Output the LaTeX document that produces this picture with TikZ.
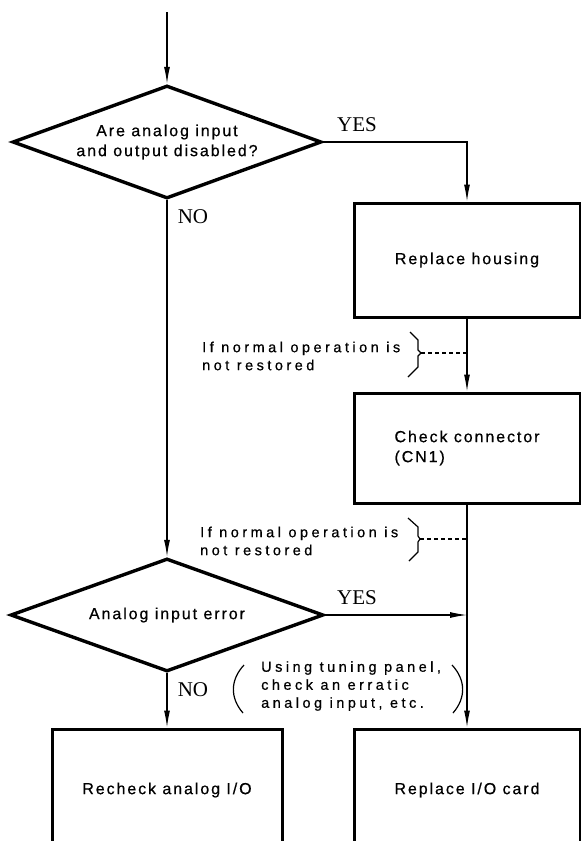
\documentclass[tikz,border=0pt]{standalone}
\usepackage{fontspec}
\setmainfont{Liberation Serif}
\newfontfamily\lblfont[LetterSpace=12,FakeBold=0.6]{Liberation Sans}
\newfontfamily\notefont[LetterSpace=24,FakeBold=0.6]{Liberation Sans}
\usetikzlibrary{shapes.geometric,arrows.meta}

\begin{document}
\begin{tikzpicture}[x=1pt,y=-1pt,
  box/.style={draw,line width=3pt,inner sep=0pt,font=\lblfont\fontsize{16}{20}\selectfont},
  decision/.style={draw,diamond,shape aspect=2.75,line width=3.4pt,inner sep=0pt,font=\lblfont\fontsize{16}{20}\selectfont,align=center},
  conn/.style={line width=1.2pt},
  arr/.style={conn,-{Latex[length=17pt,width=6pt]}},
  yn/.style={font=\fontsize{21}{24}\selectfont,inner sep=0pt},
  note/.style={font=\notefont\fontsize{14.5}{18}\selectfont,align=left,inner sep=0pt,anchor=west},
  bracestroke/.style={line width=1.2pt,line join=miter},
  dashedline/.style={line width=1.2pt,dash pattern=on 4pt off 3pt}]

\fill[white] (0,0) rectangle (581,841);
\useasboundingbox (0,0) rectangle (581,841);
\clip (0,0) rectangle (581,841);

% shapes
\node[decision,minimum width=309pt,minimum height=113pt] (d1) at (167,142) {Are analog input\\and output disabled?};
\node[box,minimum width=226pt,minimum height=114pt] (box1) at (467,260) {Replace housing};
\node[box,minimum width=226pt,minimum height=110pt,align=left] (box2) at (467,448) {Check connector\\(CN1)};
\node[decision,minimum width=313pt,minimum height=113pt] (d2) at (167,615) {Analog input error};
\node[box,minimum width=230pt,minimum height=122pt] (box3) at (167,790) {Recheck analog I/O};
\node[box,minimum width=226pt,minimum height=122pt] (box4) at (467,790) {Replace I/O card};

% labels
\node[yn] (yes1) at (357,125) {YES};
\node[yn] (no1) at (193,217) {NO};
\node[yn] (yes2) at (357,598) {YES};
\node[yn] (no2) at (193,690) {NO};

\node[note] (n1) at (202,356) {If normal operation is\\not restored};
\node[note] (n2) at (200,541) {If normal operation is\\not restored};
\node[note] (n3) at (261,686) {Using tuning panel,\\check an erratic\\analog input, etc.};

% connectors
\coordinate (start) at (167,12);
\draw[arr] (start) -- (d1.north);
\draw[arr] (d1.east) -| (box1.north);
\draw[arr] (d1.south) -- (d2.north);
\draw[arr] (box1.south) -- (box2.north);
\draw[arr] (box2.south) -- (box4.north);
\coordinate (j) at (467,615);
\draw[arr] (d2.east) -- (j);
\draw[arr] (d2.south) -- (box3.north);

% braces and dashed leaders
\draw[bracestroke] (410,332) -- (418,340) -- (418,350) -- (421,353) -- (418,356) -- (418,367) -- (408,377);
\coordinate (b1) at (421,353);
\coordinate (v1) at (467,353);
\draw[dashedline] (b1) -- (v1);

\draw[bracestroke] (408,518) -- (418,527) -- (418,536) -- (420,539) -- (418,542) -- (418,552) -- (409,561);
\coordinate (b2) at (420,539);
\coordinate (v2) at (467,539);
\draw[dashedline] (b2) -- (v2);

% parentheses
\draw[conn] (244,665) .. controls (230,680) and (230,698) .. (243,713);
\draw[conn] (452,665) .. controls (466,680) and (466,698) .. (453,713);
\end{tikzpicture}
\end{document}
